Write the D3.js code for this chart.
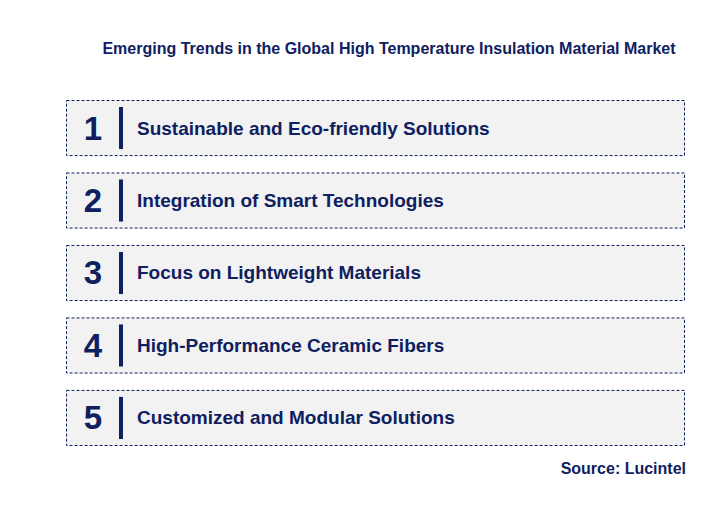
<!DOCTYPE html>
<html><head><meta charset="utf-8">
<script src="https://cdn.jsdelivr.net/npm/d3@7"></script>
<style>body{margin:0;background:#fff;font-family:"Liberation Sans",Arial,sans-serif;}</style>
</head><body><div id="chart"></div>
<script>
const ranks = [1, 2, 3, 4, 5];
const trends = [
  'Sustainable and Eco-friendly Solutions',
  'Integration of Smart Technologies',
  'Focus on Lightweight Materials',
  'High-Performance Ceramic Fibers',
  'Customized and Modular Solutions'
];

const width = 712, height = 521;
const navy = '#0f2060';

const svg = d3.select('#chart').append('svg')
  .attr('width', width).attr('height', height);

svg.append('text')
  .attr('x', 389).attr('y', 54)
  .attr('text-anchor', 'middle')
  .attr('font-size', 16).attr('font-weight', 'bold')
  .attr('fill', navy)
  .text('Emerging Trends in the Global High Temperature Insulation Material Market');

const y = d3.scaleBand().domain(ranks).range([100, 445]).paddingInner(0.24);

const row = svg.selectAll('.row').data(ranks).enter().append('g')
  .attr('class', 'row')
  .attr('transform', d => 'translate(0,' + y(d) + ')');

row.append('rect')
  .attr('x', 66.5).attr('y', 0.5)
  .attr('width', 618).attr('height', y.bandwidth())
  .attr('fill', '#f2f2f2')
  .attr('stroke', navy).attr('stroke-width', 1)
  .attr('stroke-dasharray', '3,2');

row.append('text')
  .attr('x', 93).attr('y', y.bandwidth() / 2 + 12)
  .attr('text-anchor', 'middle')
  .attr('font-size', 33).attr('font-weight', 'bold')
  .attr('fill', navy)
  .text(d => d);

row.append('rect')
  .attr('x', 119).attr('y', 7)
  .attr('width', 4).attr('height', y.bandwidth() - 13)
  .attr('fill', navy);

row.append('text')
  .attr('x', 137).attr('y', y.bandwidth() / 2 + 7)
  .attr('font-size', 19).attr('font-weight', 'bold')
  .attr('fill', navy)
  .text((d, i) => trends[i]);

svg.append('text')
  .attr('x', 686).attr('y', 474)
  .attr('text-anchor', 'end')
  .attr('font-size', 16).attr('font-weight', 'bold')
  .attr('fill', navy)
  .text('Source: Lucintel');
</script></body></html>
